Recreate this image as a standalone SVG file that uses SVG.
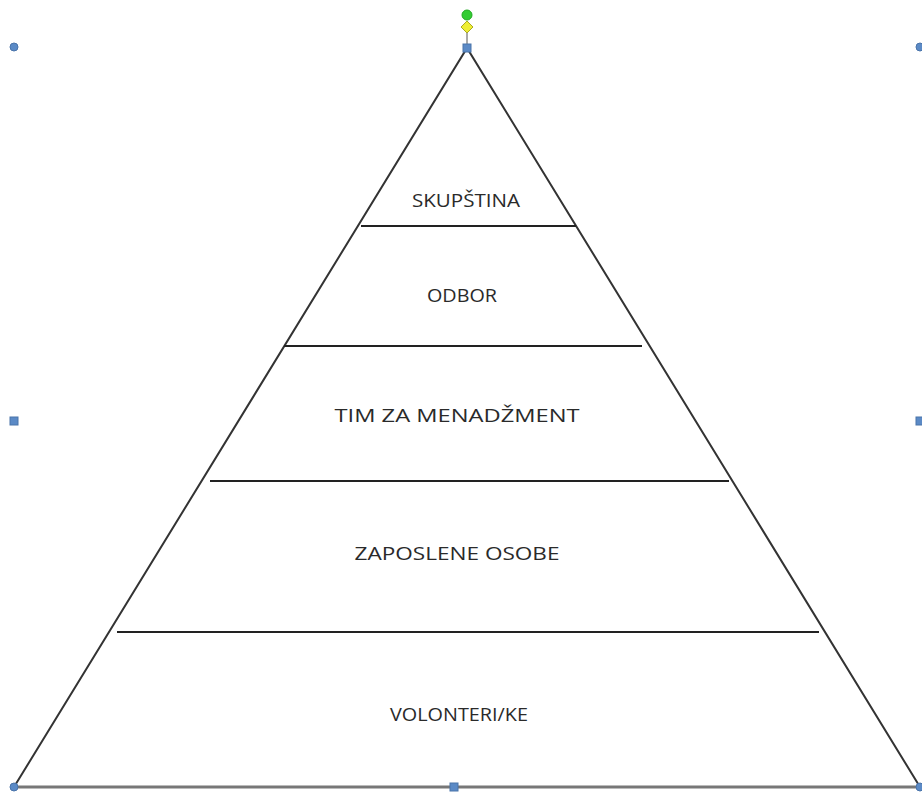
<svg xmlns="http://www.w3.org/2000/svg" width="922" height="792" viewBox="0 0 922 792">
<style>
.side{stroke:#333;stroke-width:2;fill:none}
.band{stroke:#222;stroke-width:2}
.base{stroke:#777;stroke-width:3}
.lbl{font-family:"Open Sans","Liberation Sans",sans-serif;font-size:19px;fill:#2a2a2a;text-anchor:middle;dominant-baseline:central}
.hc{fill:#5b8ac6;stroke:#4a74aa;stroke-width:1}
</style>
<rect width="922" height="792" fill="#fff"/>
<g id="pyramid">
<line class="base" x1="14" y1="787" x2="920" y2="787"/>
<polyline class="side" points="14,787 467,48 920,787"/>
</g>
<g id="connectors">
<line class="band" x1="361" y1="226" x2="576" y2="226"/>
<line class="band" x1="284" y1="346" x2="642" y2="346"/>
<line class="band" x1="210" y1="481" x2="729" y2="481"/>
<line class="band" x1="117" y1="632" x2="819" y2="632"/>
</g>
<g id="skupstina"><text class="lbl" x="466" y="200" textLength="108" lengthAdjust="spacingAndGlyphs">SKUPŠTINA</text></g>
<g id="odbor"><text class="lbl" x="462" y="295" textLength="70" lengthAdjust="spacingAndGlyphs">ODBOR</text></g>
<g id="tim"><text class="lbl" x="457" y="415" textLength="245" lengthAdjust="spacingAndGlyphs">TIM ZA MENADŽMENT</text></g>
<g id="zaposlene"><text class="lbl" x="457" y="553" textLength="205" lengthAdjust="spacingAndGlyphs">ZAPOSLENE OSOBE</text></g>
<g id="volonteri"><text class="lbl" x="459" y="714" textLength="138" lengthAdjust="spacingAndGlyphs">VOLONTERI/KE</text></g>
<g id="handles">
<line x1="467" y1="27" x2="467" y2="48" stroke="#555" stroke-width="1"/>
<circle cx="467" cy="15" r="5" fill="#3c3" stroke="#2a2" stroke-width="1"/>
<polygon points="467,21 473,27 467,33 461,27" fill="#ee3" stroke="#aa2" stroke-width="1"/>
<rect class="hc" x="463" y="44" width="8" height="8"/>
<circle class="hc" cx="14" cy="47" r="4"/>
<circle class="hc" cx="920" cy="47" r="4"/>
<rect class="hc" x="10" y="417" width="8" height="8"/>
<rect class="hc" x="916" y="417" width="8" height="8"/>
<circle class="hc" cx="14" cy="787" r="4"/>
<rect class="hc" x="450" y="783" width="8" height="8"/>
<circle class="hc" cx="920" cy="787" r="4"/>
</g>
</svg>
